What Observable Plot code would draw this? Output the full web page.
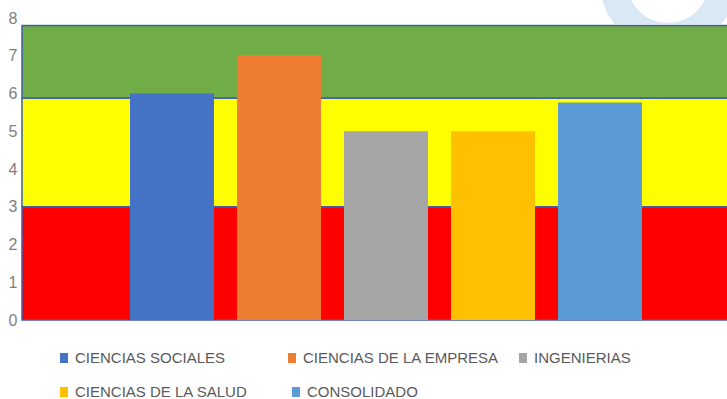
<!DOCTYPE html>
<html>
<head>
<meta charset="utf-8">
<script src="https://cdn.jsdelivr.net/npm/d3@7"></script>
<script src="https://cdn.jsdelivr.net/npm/@observablehq/plot@0.6"></script>
<style>
  body { margin: 0; background: #fff; }
  #wrap { position: relative; width: 727px; height: 399px; overflow: hidden; font-family: "Liberation Sans Narrow", "Liberation Sans", sans-serif; }
  #chart { position: absolute; left: 0; top: 0; }
  #ring { position: absolute; left: 0; top: 0; }
  .leg { position: absolute; display: flex; align-items: center; font-size: 15px; color: #595959; white-space: nowrap; }
  .leg i { display: inline-block; width: 8px; height: 10px; margin-right: 7px; }
</style>
</head>
<body>
<div id="wrap">
  <div id="chart"></div>
  <svg id="ring" width="727" height="24"><circle cx="668" cy="-18" r="54.5" fill="none" stroke="#D9E8F5" stroke-width="27"/></svg>
</div>
<script>
const categories = ["CIENCIAS SOCIALES", "CIENCIAS DE LA EMPRESA", "INGENIERIAS", "CIENCIAS DE LA SALUD", "CONSOLIDADO"];
const values = [6.0, 7.02, 5.0, 5.0, 5.76];
const colors = ["#4472C4", "#ED7D31", "#A5A5A5", "#FFC000", "#5B9BD5"];
const bandLow = [0, 3.0, 5.88];
const bandHigh = [3.0, 5.88, 7.8];
const bandColors = ["#FF0000", "#FFFF00", "#70AD47"];
const yTicks = [0, 1, 2, 3, 4, 5, 6, 7, 8];

const bars = categories.map((c, i) => ({cat: c, val: values[i]}));
const bands = bandLow.map((lo, i) => ({lo, hi: bandHigh[i], color: bandColors[i]}));

const plot = Plot.plot({
  width: 727,
  height: 340,
  marginTop: 18,
  marginBottom: 20,
  marginLeft: 22,
  marginRight: 0,
  style: {background: "transparent", fontFamily: "Liberation Sans, sans-serif"},
  x: {type: "band", domain: categories, range: [106.8, 666], padding: 0.216, axis: null},
  y: {domain: [0, 8], label: null},
  color: {domain: categories, range: colors},
  marks: [
    Plot.rect(bands, {y1: "lo", y2: "hi", fill: "color", stroke: "#3F5EA8", strokeWidth: 1.5, insetRight: -5}),
    Plot.ruleY([0], {x1: 36, x2: 727, stroke: "#BFBFBF", strokeWidth: 1.5}),
    Plot.barY(bars, {x: "cat", y: "val", fill: "cat"}),
    Plot.axisY({ticks: yTicks, tickSize: 0, tickPadding: 5, fontSize: 16, fill: "#7F7F7F", label: null, tickFormat: d => d})
  ]
});
document.getElementById("chart").appendChild(plot);

const legPos = [[60, 358], [288, 358], [519, 358], [60, 392], [292, 392]];
const wrap = document.getElementById("wrap");
categories.forEach((c, i) => {
  const d = document.createElement("div");
  d.className = "leg";
  d.style.left = legPos[i][0] + "px";
  d.style.top = (legPos[i][1] - 9) + "px";
  d.innerHTML = `<i style="background:${colors[i]}"></i>${c}`;
  wrap.appendChild(d);
});
</script>
</body>
</html>
